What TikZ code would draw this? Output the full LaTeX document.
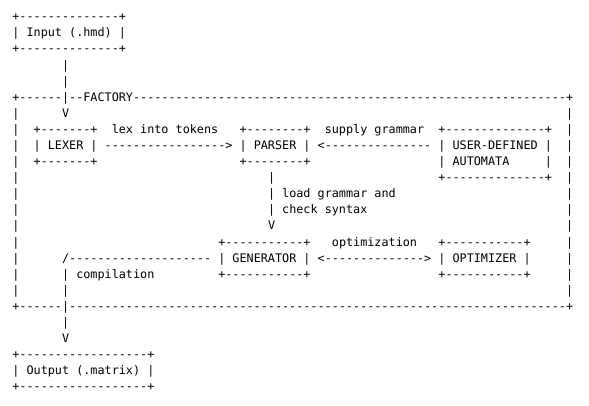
\documentclass[tikz,border=0pt]{standalone}
\usepackage{fontspec}
\setmonofont{DejaVu Sans Mono}
\frenchspacing
\tikzset{asc/.style={anchor=base west, inner sep=0pt, outer sep=0pt,
  font=\ttfamily\fontsize{11.79}{14}\selectfont, text=black}}
\newcommand\ascii[4]{\node[asc] (#3) at ({12.4+7.1*#1},{-(20.8+16.09*#2)}) {#4};}
\begin{document}
\begin{tikzpicture}[x=1pt,y=1pt]
\useasboundingbox (0,0) rectangle (589,-405);
% input box
\ascii{0}{0}{inT}{+--------------+}
\ascii{0}{1}{input}{| Input (.hmd) |}
\ascii{0}{2}{inB}{+--------------+}
\ascii{7}{3}{inL1}{|}
\ascii{7}{4}{inL2}{|}
% factory frame
\ascii{0}{5}{facT}{+------|--FACTORY-------------------------------------------------------------+}
\foreach \r in {6,...,17}{
  \ascii{0}{\r}{fl\r}{|}
  \ascii{78}{\r}{fr\r}{|}
}
\ascii{7}{6}{inV}{V}
% lexer / parser / automata
\ascii{3}{7}{lexT}{+-------+}
\ascii{14}{7}{lexlab}{lex into tokens}
\ascii{32}{7}{parT}{+--------+}
\ascii{44}{7}{suplab}{supply grammar}
\ascii{60}{7}{autT}{+--------------+}
\ascii{3}{8}{lexer}{| LEXER |}
\ascii{13}{8}{lexarr}{----------------->}
\ascii{32}{8}{parser}{| PARSER |}
\ascii{43}{8}{suparr}{<---------------}
\ascii{60}{8}{automata}{| USER-DEFINED |}
\ascii{3}{9}{lexB}{+-------+}
\ascii{32}{9}{parB}{+--------+}
\ascii{60}{9}{aut2}{| AUTOMATA}
\ascii{75}{9}{aut2r}{|}
\ascii{36}{10}{pl1}{|}
\ascii{60}{10}{autB}{+--------------+}
\ascii{36}{11}{loadlab}{| load grammar and}
\ascii{36}{12}{checklab}{| check syntax}
\ascii{36}{13}{plV}{V}
% generator / optimizer
\ascii{29}{14}{genT}{+-----------+}
\ascii{45}{14}{optlab}{optimization}
\ascii{60}{14}{optT}{+-----------+}
\ascii{7}{15}{compl}{/--------------------}
\ascii{29}{15}{generator}{| GENERATOR |}
\ascii{43}{15}{optarr}{<-------------->}
\ascii{60}{15}{optimizer}{| OPTIMIZER |}
\ascii{7}{16}{complab}{| compilation}
\ascii{29}{16}{genB}{+-----------+}
\ascii{60}{16}{optB}{+-----------+}
\ascii{7}{17}{cl1}{|}
\ascii{0}{18}{facB}{+------|----------------------------------------------------------------------+}
% output box
\ascii{7}{19}{cl2}{|}
\ascii{7}{20}{clV}{V}
\ascii{0}{21}{outT}{+------------------+}
\ascii{0}{22}{output}{| Output (.matrix) |}
\ascii{0}{23}{outB}{+------------------+}
\end{tikzpicture}
\end{document}
